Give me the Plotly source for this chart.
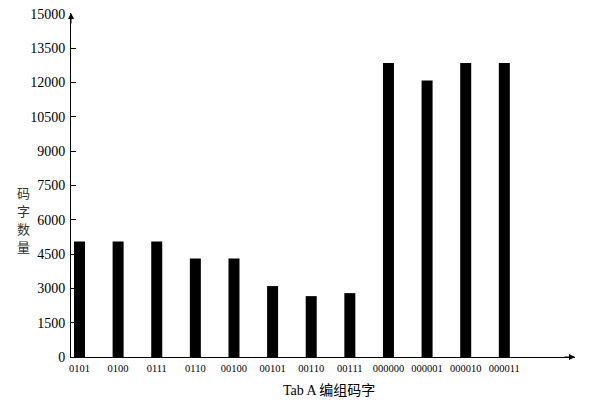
import plotly.graph_objects as go

codes = ["0101", "0100", "0111", "0110", "00100", "00101", "00110", "00111",
         "000000", "000001", "000010", "000011"]
counts = [5050, 5050, 5050, 4300, 4300, 3100, 2660, 2790, 12850, 12080, 12850, 12850]
y_ticks = [0, 1500, 3000, 4500, 6000, 7500, 9000, 10500, 12000, 13500, 15000]
y_title_chars = ["码", "字", "数", "量"]

serif = "Liberation Serif"

fig = go.Figure()
fig.add_trace(
    go.Bar(x=list(range(len(codes))), y=counts, width=0.285,
           marker={"color": "black", "line": {"width": 0}})
)

# the page body adds 8px on the top/left, so the figure is 606x402
fig.update_layout(
    width=606,
    height=402,
    margin={"l": 63, "r": 39, "t": 5, "b": 53, "autoexpand": False},
    paper_bgcolor="white",
    plot_bgcolor="white",
    showlegend=False,
    font={"family": serif, "color": "black"},
)
fig.update_xaxes(
    range=[-0.22, len(codes) - 1 + 1.83],
    tickvals=list(range(len(codes))),
    ticktext=codes,
    tickfont={"size": 10.5, "family": serif},
    showline=True, linecolor="black", linewidth=1,
    showgrid=False, zeroline=False, ticks="",
    ticklabelstandoff=1,
    automargin=False,
)
fig.update_yaxes(
    range=[0, 15030],
    tickvals=y_ticks,
    tickformat="d",
    tickfont={"size": 14, "family": serif},
    showline=True, linecolor="black", linewidth=1,
    showgrid=False, zeroline=False,
    ticks="inside", ticklen=5, tickcolor="black",
    ticklabelstandoff=2,
    ticklabeloverflow="allow",
    automargin=False,
)

# axis arrows
fig.add_annotation(xref="paper", yref="paper", x=1, y=0, ax=-12, ay=0, text="",
                   showarrow=True, arrowhead=2, arrowsize=1.2, arrowwidth=1, arrowcolor="black")
fig.add_annotation(xref="paper", yref="paper", x=0, y=1, ax=0, ay=12, text="",
                   showarrow=True, arrowhead=2, arrowsize=1.2, arrowwidth=1, arrowcolor="black")

# x-axis title
fig.add_annotation(xref="paper", yref="paper", x=0.512, y=-0.096, yanchor="middle",
                   showarrow=False, text="Tab A 编组码字",
                   font={"size": 14, "family": "Liberation Serif, Noto Sans CJK SC"})

# vertical y-axis title, one character per line
for i, ch in enumerate(y_title_chars):
    fig.add_annotation(xref="paper", yref="paper", x=-0.095, y=0.479 - i * 0.0525,
                       xanchor="center", yanchor="middle", showarrow=False, text=ch,
                       font={"size": 13, "color": "#333", "family": "Noto Sans CJK SC"})

fig.write_html("out.html")
